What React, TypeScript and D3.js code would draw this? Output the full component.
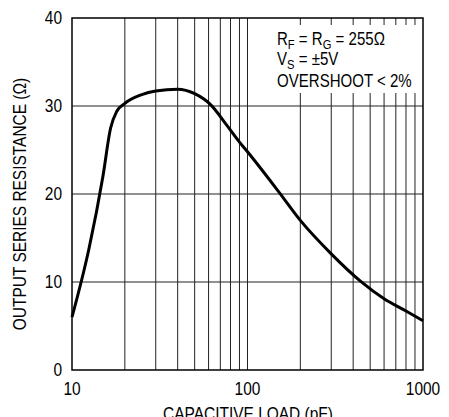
import * as d3 from "d3";
import { useEffect, useRef } from "react";

// capacitive load (pF) vs output series resistance (ohm)
const capLoad = [10, 12.5, 15, 16.6, 18, 20, 25, 30, 40, 50, 62, 75, 90, 100, 150, 200, 300, 440, 600, 800, 1000];
const resistance = [6, 13.8, 22, 27.5, 29.4, 30.3, 31.3, 31.7, 31.9, 31.4, 30.1, 28, 25.9, 24.8, 20.3, 17, 13.2, 10.1, 8.1, 6.7, 5.6];

const yTicks = [0, 10, 20, 30, 40];
const xTickLabels = [10, 100, 1000];
const annotation = ["RF = RG = 255Ω", "VS = ±5V", "OVERSHOOT < 2%"];

const FONT = "'Liberation Sans', Arial, sans-serif";
const SQUEEZE = 0.86; // condensed look of the original type

export default function App() {
  const svgRef = useRef<SVGSVGElement>(null);

  useEffect(() => {
    if (!svgRef.current) return;
    const svg = d3.select(svgRef.current);
    svg.selectAll("*").remove();

    const left = 72, right = 423, top = 18, bottom = 370;

    const x = d3.scaleLog().domain([10, 1000]).range([left, right]);
    const y = d3.scaleLinear().domain([0, 40]).range([bottom, top]);

    const place = (px: number, py: number, rot = 0) =>
      `translate(${px},${py}) rotate(${rot}) scale(${SQUEEZE},1)`;

    // vertical grid lines, every decade step
    const xGrid: number[] = [];
    for (let dec = 10; dec < 1000; dec *= 10) {
      for (let k = 2; k <= 10; k++) xGrid.push(dec * k);
    }
    xGrid.pop();
    svg.append("g")
      .selectAll("line")
      .data(xGrid)
      .enter()
      .append("line")
      .attr("x1", d => x(d))
      .attr("x2", d => x(d))
      .attr("y1", top)
      .attr("y2", bottom)
      .attr("stroke", "#222")
      .attr("stroke-width", 1);

    svg.append("g")
      .selectAll("line")
      .data(yTicks.slice(1, -1))
      .enter()
      .append("line")
      .attr("x1", left)
      .attr("x2", right)
      .attr("y1", d => y(d))
      .attr("y2", d => y(d))
      .attr("stroke", "#222")
      .attr("stroke-width", 1);

    // white box behind the annotation
    svg.append("rect")
      .attr("x", 274)
      .attr("y", 25)
      .attr("width", 146)
      .attr("height", 68)
      .attr("fill", "white");

    // frame
    svg.append("rect")
      .attr("x", left)
      .attr("y", top)
      .attr("width", right - left)
      .attr("height", bottom - top)
      .attr("fill", "none")
      .attr("stroke", "#000")
      .attr("stroke-width", 1.5);

    // curve
    const line = d3.line<number>()
      .x((d, i) => x(capLoad[i]))
      .y(d => y(d))
      .curve(d3.curveMonotoneX);

    svg.append("path")
      .datum(resistance)
      .attr("d", line)
      .attr("fill", "none")
      .attr("stroke", "#000")
      .attr("stroke-width", 3)
      .attr("stroke-linejoin", "round");

    // y tick labels
    svg.append("g")
      .selectAll("text")
      .data(yTicks)
      .enter()
      .append("text")
      .attr("transform", d => place(62, y(d)))
      .attr("dy", "0.36em")
      .attr("text-anchor", "end")
      .attr("font-size", 18)
      .attr("font-family", FONT)
      .text(d => d);

    // x tick labels
    svg.append("g")
      .selectAll("text")
      .data(xTickLabels)
      .enter()
      .append("text")
      .attr("transform", d => place(x(d), 395))
      .attr("text-anchor", "middle")
      .attr("font-size", 18)
      .attr("font-family", FONT)
      .text(d => d);

    // axis titles
    svg.append("text")
      .attr("transform", place(26, 204, -90))
      .attr("text-anchor", "middle")
      .attr("font-size", 18)
      .attr("font-family", FONT)
      .text("OUTPUT SERIES RESISTANCE (Ω)");

    svg.append("text")
      .attr("transform", place(248, 420))
      .attr("text-anchor", "middle")
      .attr("font-size", 18)
      .attr("font-family", FONT)
      .text("CAPACITIVE LOAD (pF)");

    // annotation with subscripts
    const note = svg.append("g")
      .attr("font-size", 17.5)
      .attr("font-family", FONT);

    const t1 = note.append("text").attr("transform", place(277, 45));
    t1.append("tspan").text("R");
    t1.append("tspan").attr("font-size", 13).attr("dy", 4).text("F");
    t1.append("tspan").attr("dy", -4).text(" = R");
    t1.append("tspan").attr("font-size", 13).attr("dy", 4).text("G");
    t1.append("tspan").attr("dy", -4).text(" = 255Ω");

    const t2 = note.append("text").attr("transform", place(277, 65));
    t2.append("tspan").text("V");
    t2.append("tspan").attr("font-size", 13).attr("dy", 4).text("S");
    t2.append("tspan").attr("dy", -4).text(" = ±5V");

    note.append("text").attr("transform", place(277, 86.5)).text(annotation[2]);
  }, []);

  return (
    <svg
      ref={svgRef}
      width={449}
      height={417}
      style={{ position: "absolute", left: 0, top: 0, background: "white" }}
    />
  );
}
